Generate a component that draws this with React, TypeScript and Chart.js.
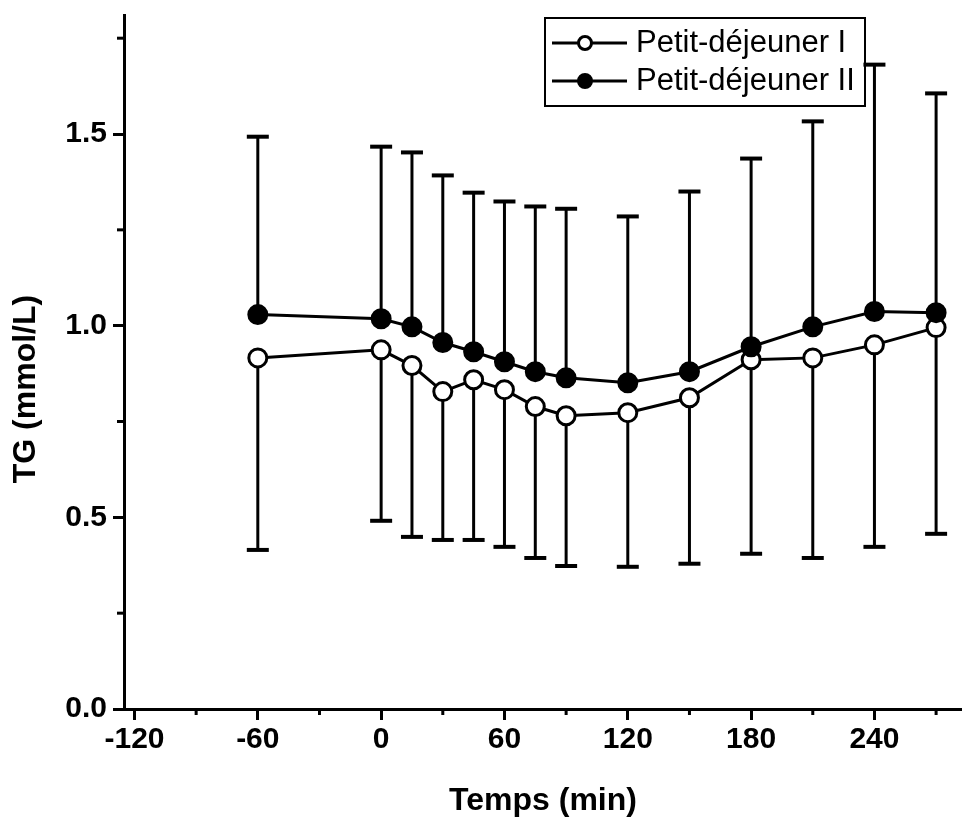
import React, { useEffect, useRef } from 'react';
import { Chart, registerables } from 'chart.js';

Chart.register(...registerables);

// ---- Data ----
const times = [-60, 0, 15, 30, 45, 60, 75, 90, 120, 150, 180, 210, 240, 270];
const seriesI = [0.916, 0.937, 0.896, 0.828, 0.859, 0.833, 0.789, 0.765, 0.773, 0.812, 0.911, 0.916, 0.95, 0.995];
const seriesII = [1.029, 1.018, 0.997, 0.956, 0.932, 0.906, 0.88, 0.864, 0.851, 0.88, 0.945, 0.997, 1.037, 1.034];
// error bar lengths: series I drawn downward, series II drawn upward
const errI = [0.501, 0.446, 0.447, 0.387, 0.418, 0.41, 0.395, 0.392, 0.402, 0.433, 0.506, 0.522, 0.527, 0.538];
const errII = [0.464, 0.449, 0.455, 0.436, 0.415, 0.418, 0.431, 0.441, 0.434, 0.47, 0.491, 0.536, 0.644, 0.572];

const labelI = 'Petit-déjeuner I';
const labelII = 'Petit-déjeuner II';
const xTitle = 'Temps (min)';
const yTitle = 'TG (mmol/L)';
const xMajorStep = 60;
const xMinorStep = 30;
const yMajorStep = 0.5;
const yMinorStep = 0.25;

const FONT = '"Liberation Sans", Arial, Helvetica, sans-serif';

const isMajor = (v: number, step: number) => Math.abs(v / step - Math.round(v / step)) < 1e-6;

const errorBarsPlugin = {
  id: 'errorBars',
  beforeDatasetsDraw(chart: any) {
    const { ctx, scales } = chart;
    const x = scales.x;
    const y = scales.y;
    const cap = 11;
    ctx.save();
    ctx.strokeStyle = '#000';
    times.forEach((t, i) => {
      const px = x.getPixelForValue(t);
      // Series II upward
      const a0 = y.getPixelForValue(seriesII[i]);
      const a1 = y.getPixelForValue(seriesII[i] + errII[i]);
      ctx.lineWidth = 3;
      ctx.beginPath();
      ctx.moveTo(px, a0);
      ctx.lineTo(px, a1);
      ctx.stroke();
      ctx.lineWidth = 4;
      ctx.beginPath();
      ctx.moveTo(px - cap, a1);
      ctx.lineTo(px + cap, a1);
      ctx.stroke();
      // Series I downward
      const b0 = y.getPixelForValue(seriesI[i]);
      const b1 = y.getPixelForValue(seriesI[i] - errI[i]);
      ctx.lineWidth = 3;
      ctx.beginPath();
      ctx.moveTo(px, b0);
      ctx.lineTo(px, b1);
      ctx.stroke();
      ctx.lineWidth = 4;
      ctx.beginPath();
      ctx.moveTo(px - cap, b1);
      ctx.lineTo(px + cap, b1);
      ctx.stroke();
    });
    ctx.restore();
  },
};

const decorPlugin = {
  id: 'decor',
  afterDraw(chart: any) {
    const { ctx, scales, chartArea } = chart;
    const x = scales.x;
    const y = scales.y;
    ctx.save();
    ctx.strokeStyle = '#000';
    ctx.fillStyle = '#000';
    ctx.lineWidth = 3;
    // minor ticks
    x.ticks.forEach((t: any) => {
      if (!isMajor(t.value, xMajorStep)) {
        const px = x.getPixelForValue(t.value);
        ctx.beginPath();
        ctx.moveTo(px, chartArea.bottom);
        ctx.lineTo(px, chartArea.bottom + 6);
        ctx.stroke();
      }
    });
    y.ticks.forEach((t: any) => {
      if (!isMajor(t.value, yMajorStep)) {
        const py = y.getPixelForValue(t.value);
        ctx.beginPath();
        ctx.moveTo(chartArea.left - 7, py);
        ctx.lineTo(chartArea.left, py);
        ctx.stroke();
      }
    });

    // y-axis title
    ctx.save();
    ctx.translate(26, 389);
    ctx.rotate(-Math.PI / 2);
    ctx.font = `bold 32px ${FONT}`;
    ctx.textAlign = 'center';
    ctx.textBaseline = 'middle';
    ctx.fillText(yTitle, 0, 0);
    ctx.restore();

    // legend
    const lx = chartArea.left + 421;
    const ly = 18;
    const lw = 320;
    const lh = 88;
    ctx.lineWidth = 2;
    ctx.strokeRect(lx, ly, lw, lh);
    const rows = [
      { label: labelI, fill: '#fff', yy: 43 },
      { label: labelII, fill: '#000', yy: 81 },
    ];
    rows.forEach((r) => {
      ctx.lineWidth = 3;
      ctx.beginPath();
      ctx.moveTo(lx + 7, r.yy);
      ctx.lineTo(lx + 82, r.yy);
      ctx.stroke();
      ctx.beginPath();
      ctx.arc(lx + 40, r.yy, 6.5, 0, Math.PI * 2);
      ctx.fillStyle = r.fill;
      ctx.fill();
      ctx.stroke();
      ctx.fillStyle = '#000';
      ctx.font = `31px ${FONT}`;
      ctx.textAlign = 'left';
      ctx.textBaseline = 'middle';
      ctx.fillText(r.label, lx + 91, r.yy);
    });
    ctx.restore();
  },
};

export default function App() {
  const ref = useRef<HTMLCanvasElement | null>(null);

  useEffect(() => {
    if (!ref.current) return;
    const chart = new Chart(ref.current, {
      type: 'line',
      data: {
        datasets: [
          {
            label: labelI,
            data: times.map((t, i) => ({ x: t, y: seriesI[i] })),
            borderColor: '#000',
            borderWidth: 3,
            pointRadius: 9,
            pointBorderWidth: 3,
            pointBackgroundColor: '#fff',
            pointBorderColor: '#000',
            fill: false,
            tension: 0,
            order: 2,
          },
          {
            label: labelII,
            data: times.map((t, i) => ({ x: t, y: seriesII[i] })),
            borderColor: '#000',
            borderWidth: 3,
            pointRadius: 9,
            pointBorderWidth: 3,
            pointBackgroundColor: '#000',
            pointBorderColor: '#000',
            fill: false,
            tension: 0,
            order: 1,
          },
        ],
      },
      options: {
        animation: false,
        responsive: false,
        devicePixelRatio: 1,
        layout: { autoPadding: false, padding: { top: 15, right: 0, bottom: 0, left: 0 } },
        plugins: {
          legend: { display: false },
          tooltip: { enabled: false },
        },
        scales: {
          x: {
            type: 'linear',
            min: -125.1,
            max: 282.6,
            afterFit: (s: any) => {
              s.height = 112;
              s.paddingLeft = 0;
              s.paddingRight = 0;
            },
            border: { display: true, color: '#000', width: 3 },
            grid: {
              drawOnChartArea: false,
              drawTicks: true,
              tickLength: 11,
              tickWidth: 3,
              tickColor: (c: any) => (c.tick && isMajor(c.tick.value, xMajorStep) ? '#000' : 'rgba(0,0,0,0)'),
            },
            ticks: {
              stepSize: xMinorStep,
              maxTicksLimit: 100,
              autoSkip: false,
              maxRotation: 0,
              includeBounds: false,
              padding: 2,
              color: '#000',
              font: { family: FONT, size: 30, weight: 'bold' },
              callback: (v: any) => (isMajor(Number(v), xMajorStep) ? String(Math.round(Number(v))) : ''),
            },
            title: {
              display: true,
              text: xTitle,
              color: '#000',
              font: { family: FONT, size: 32, weight: 'bold' },
              padding: { top: 0, bottom: 1 },
            },
          },
          y: {
            type: 'linear',
            min: 0,
            max: 1.8105,
            afterFit: (s: any) => {
              s.width = 124;
              s.paddingTop = 0;
              s.paddingBottom = 0;
            },
            border: { display: true, color: '#000', width: 3 },
            grid: {
              drawOnChartArea: false,
              drawTicks: true,
              tickLength: 11,
              tickWidth: 3,
              tickColor: (c: any) => (c.tick && isMajor(c.tick.value, yMajorStep) ? '#000' : 'rgba(0,0,0,0)'),
            },
            ticks: {
              stepSize: yMinorStep,
              maxTicksLimit: 100,
              autoSkip: false,
              includeBounds: false,
              padding: 6,
              color: '#000',
              font: { family: FONT, size: 30, weight: 'bold' },
              callback: (v: any) => (isMajor(Number(v), yMajorStep) ? Number(v).toFixed(1) : ''),
            },
            title: { display: false },
          },
        },
      },
      plugins: [errorBarsPlugin, decorPlugin],
    } as any);
    return () => chart.destroy();
  }, []);

  return (
    <div style={{ position: 'absolute', left: 0, top: 0, width: 962, height: 821, background: '#fff' }}>
      <canvas ref={ref} width={962} height={821} style={{ display: 'block' }} />
    </div>
  );
}
